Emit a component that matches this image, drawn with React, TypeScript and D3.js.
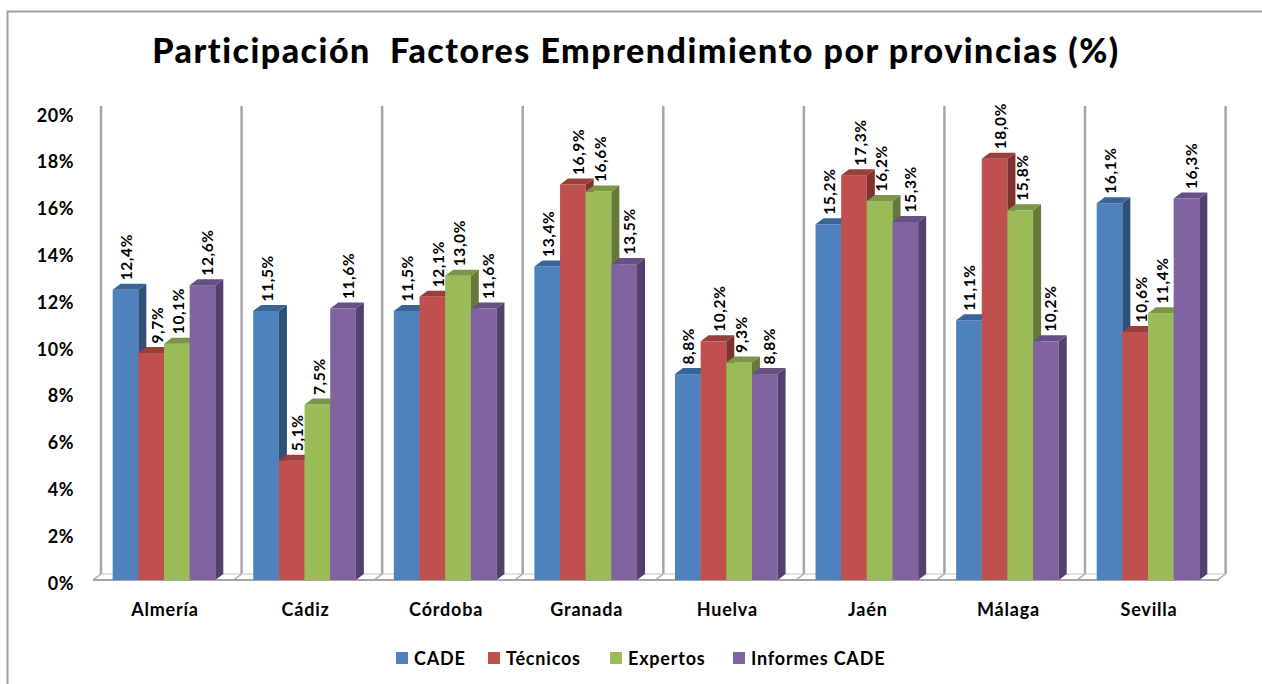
import * as d3 from "d3";

const categories = ["Almería", "Cádiz", "Córdoba", "Granada", "Huelva", "Jaén", "Málaga", "Sevilla"];
const seriesNames = ["CADE", "Técnicos", "Expertos", "Informes CADE"];
const cade = [12.4, 11.5, 11.5, 13.4, 8.8, 15.2, 11.1, 16.1];
const tecnicos = [9.7, 5.1, 12.1, 16.9, 10.2, 17.3, 18.0, 10.6];
const expertos = [10.1, 7.5, 13.0, 16.6, 9.3, 16.2, 15.8, 11.4];
const informes = [12.6, 11.6, 11.6, 13.5, 8.8, 15.3, 10.2, 16.3];
const seriesValues = [cade, tecnicos, expertos, informes];
const yTicks = [0, 2, 4, 6, 8, 10, 12, 14, 16, 18, 20];

const frontColors = ["#4f81bd", "#c0504d", "#9bbb59", "#8064a2"];
const sideColors = ["#2f5078", "#7f3331", "#657a3a", "#553f6e"];
const topColors = ["#3a6396", "#993f3c", "#7b9646", "#664f83"];

const fontFamily = "Lato, 'Open Sans', sans-serif";
const depthX = 8;
const depthY = 6;
// data labels sit a little right of the bar centre, more so on the 2nd and 4th bar
const labelNudge = [1, 6, 2, 5];

const x0 = d3.scaleBand<string>().domain(categories).range([93, 1219]).paddingInner(0.27).paddingOuter(0.14);
const x1 = d3.scaleBand<string>().domain(seriesNames).range([0, x0.bandwidth()]);
const y = d3.scaleLinear().domain([0, 20]).range([580, 112]);

const comma = (v: number) => v.toFixed(1).replace(".", ",") + "%";

export default function App() {
  const wallTop = y(20) - depthY;
  const floor = y(0);
  const step = x0.step();
  const [left, right] = x0.range();
  const walls = d3.range(categories.length + 1).map((i) => left + i * step);
  const legendX = [396, 488, 610, 733];

  return (
    <svg width={1262} height={684} style={{ position: "absolute", left: 0, top: 0, background: "#fff" }} fontFamily={fontFamily}>
      <path d="M7.5,684V11.5H1262" fill="none" stroke="#a0a0a0" strokeWidth={2} />
      <text x={636} y={63} textAnchor="middle" fontSize={34} fontWeight={900} letterSpacing={1.5} fill="#000" style={{ whiteSpace: "pre" }}>
        {"Participación  Factores Emprendimiento por provincias (%)"}
      </text>

      {walls.map((wx) => (
        <g key={wx}>
          <line x1={wx + depthX} x2={wx + depthX} y1={wallTop} y2={floor - depthY} stroke="#a6a6a6" strokeWidth={2.5} />
          <line x1={wx} x2={wx + depthX} y1={floor} y2={floor - depthY} stroke="#a6a6a6" strokeWidth={1.5} />
        </g>
      ))}
      <line x1={left + depthX} x2={right + depthX} y1={floor - depthY} y2={floor - depthY} stroke="#c4c4c4" strokeWidth={1} />
      <line x1={left} x2={right} y1={floor} y2={floor} stroke="#a6a6a6" strokeWidth={2} />

      {yTicks.map((t) => (
        <text key={t} x={74} y={y(t) + 9.5} textAnchor="end" fontSize={18} fontWeight={700} letterSpacing={0.5} fill="#000">
          {t}%
        </text>
      ))}

      {categories.map((c, ci) => (
        <g key={c} transform={`translate(${x0(c)},0)`}>
          {seriesNames.map((s, si) => {
            const bx = x1(s)!;
            const w = x1.bandwidth();
            const v = seriesValues[si][ci];
            const top = y(v);
            return (
              <g key={s}>
                <rect x={bx} y={top} width={w} height={floor - top} fill={frontColors[si]} />
                <path
                  d={`M${bx + w},${top}L${bx + w + depthX},${top - depthY}V${floor - depthY}L${bx + w},${floor}Z`}
                  fill={sideColors[si]}
                />
                <path
                  d={`M${bx},${top}L${bx + depthX},${top - depthY}H${bx + w + depthX}L${bx + w},${top}Z`}
                  fill={topColors[si]}
                />
              </g>
            );
          })}
          {seriesNames.map((s, si) => {
            const v = seriesValues[si][ci];
            const lx = x1(s)! + x1.bandwidth() / 2 + labelNudge[si] + 5.5;
            const ly = y(v) - 9.5;
            return (
              <text
                key={s}
                transform={`translate(${lx},${ly}) rotate(-90)`}
                fontSize={15.5}
                fontWeight={700}
                letterSpacing={0.6}
                fill="#000"
              >
                {comma(v)}
              </text>
            );
          })}
          <text x={x0.bandwidth() / 2 + 1} y={616} textAnchor="middle" fontSize={18} fontWeight={700} letterSpacing={0.8} fill="#000">
            {c}
          </text>
        </g>
      ))}

      {seriesNames.map((s, si) => (
        <g key={s}>
          <rect x={legendX[si]} y={652} width={12} height={12} fill={frontColors[si]} />
          <text x={legendX[si] + 18} y={664.5} fontSize={18} fontWeight={700} letterSpacing={0.8} fill="#000">
            {s}
          </text>
        </g>
      ))}
    </svg>
  );
}
